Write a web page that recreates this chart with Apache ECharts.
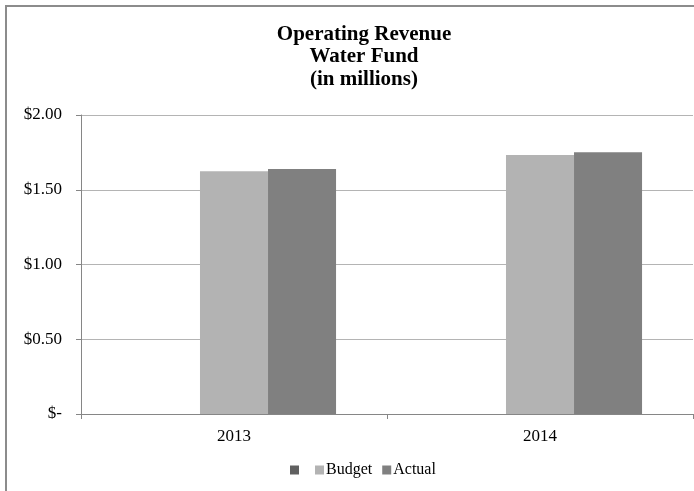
<!DOCTYPE html>
<html>
<head>
<meta charset="utf-8">
<script src="https://cdn.jsdelivr.net/npm/echarts@6/dist/echarts.min.js"></script>
<style>
  html, body { margin: 0; padding: 0; background: #fff; }
  #chart { width: 694px; height: 491px; }
</style>
</head>
<body>
<div id="chart"></div>
<script>
// data (millions of dollars)
var years = ["2013", "2014"];
var blankValues = [null, null];
var budgetValues = [1.623, 1.732];
var actualValues = [1.639, 1.751];
var yTicks = [0, 0.5, 1, 1.5, 2];

var serif = "Liberation Serif";
var chart = echarts.init(document.getElementById("chart"));

function money(v) {
  return v === 0 ? "$-" : "$" + v.toFixed(2);
}

chart.setOption({
  animation: false,
  graphic: [
    {
      type: "rect",
      shape: { x: 6, y: 6, width: 800, height: 600 },
      style: { fill: "none", stroke: "#8c8c8c", lineWidth: 2 },
      silent: true
    }
  ],
  title: {
    text: "Operating Revenue\nWater Fund\n(in millions)",
    left: 359,
    top: 18,
    textAlign: "center",
    textStyle: {
      fontFamily: serif,
      fontWeight: "bold",
      fontSize: 21,
      lineHeight: 22.5,
      color: "#000"
    }
  },
  legend: {
    data: [" ", "Budget", "Actual"],
    left: 285,
    top: 457,
    itemWidth: 9,
    itemHeight: 9,
    itemGap: 10,
    icon: "rect",
    textStyle: { fontFamily: serif, fontSize: 16, color: "#000", padding: [0, 0, 0, -3] }
  },
  grid: { left: 81, right: 1, top: 115, bottom: 77 },
  xAxis: {
    type: "category",
    data: years,
    axisLine: { lineStyle: { color: "#868686", width: 1 } },
    axisTick: { show: true, length: 5, lineStyle: { color: "#868686" } },
    axisLabel: { fontFamily: serif, fontSize: 17, color: "#000", margin: 14 }
  },
  yAxis: {
    type: "value",
    min: yTicks[0],
    max: yTicks[yTicks.length - 1],
    interval: 0.5,
    axisLine: { show: true, lineStyle: { color: "#868686" } },
    axisTick: { show: true, length: 5, lineStyle: { color: "#868686" } },
    splitLine: { lineStyle: { color: "#b4b4b4" } },
    axisLabel: {
      fontFamily: serif,
      fontSize: 17,
      color: "#000",
      margin: 19,
      formatter: money
    }
  },
  series: [
    {
      name: " ",
      type: "bar",
      data: blankValues,
      itemStyle: { color: "#606060" },
      barGap: "0%",
      barCategoryGap: "33.3%"
    },
    {
      name: "Budget",
      type: "bar",
      data: budgetValues,
      itemStyle: { color: "#b3b3b3" },
      barGap: "0%",
      barCategoryGap: "33.3%"
    },
    {
      name: "Actual",
      type: "bar",
      data: actualValues,
      itemStyle: { color: "#808080" },
      barGap: "0%",
      barCategoryGap: "33.3%"
    }
  ]
});
</script>
</body>
</html>
